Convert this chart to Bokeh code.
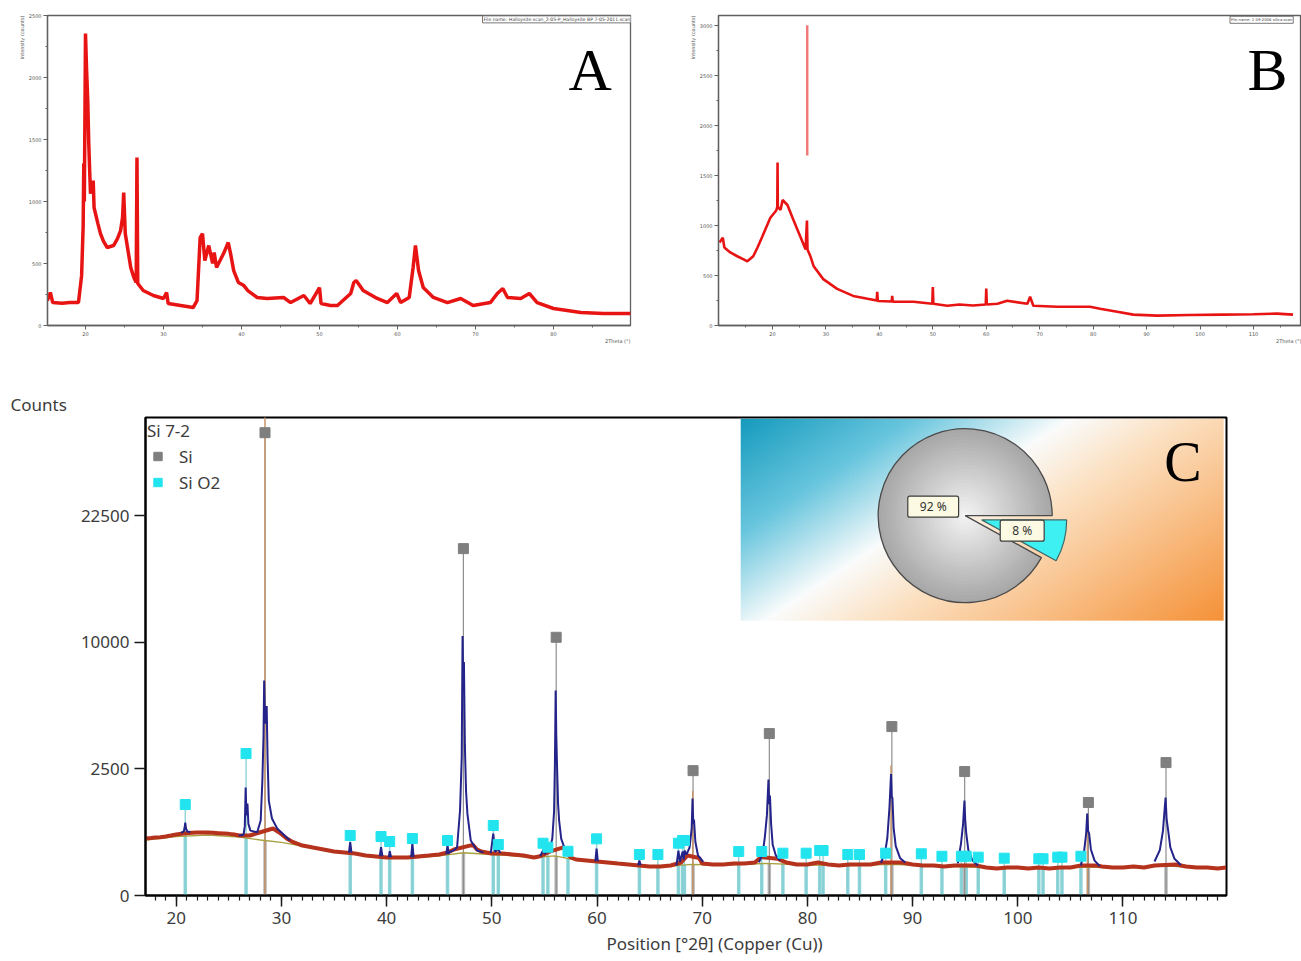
import numpy as np
from bokeh.plotting import figure
from bokeh.layouts import column, row
from bokeh.models import Range1d, FixedTicker, Label, CustomJSTickFormatter, Title
from bokeh.embed import file_html
from bokeh.resources import INLINE
from bokeh.core.properties import value

# ================= Panel A data (halloysite) =================
a_2theta = [15.1, 15.5, 15.8, 17.0, 18.0, 19.1, 19.5, 19.7, 19.78, 19.85, 19.93, 20.0, 20.13, 20.29,
            20.42, 20.55, 20.64, 20.86, 20.99, 21.1, 21.28, 21.6, 21.92, 22.3, 22.78, 23.6, 24.1,
            24.5, 24.75, 24.9, 25.1, 25.8, 26.2, 26.5, 26.6, 26.7, 27.4, 28.7, 30.0, 30.4, 30.6,
            32.2, 33.8, 34.3, 34.7, 35.0, 35.3, 35.8, 36.3, 36.5, 36.8, 37.7, 38.3, 38.6, 39.0,
            39.6, 40.3, 40.8, 42.0, 43.3, 45.4, 46.3, 48.0, 48.8, 50.0, 50.2, 51.4, 52.3, 54.0,
            54.4, 54.7, 55.6, 57.4, 58.7, 59.9, 60.4, 61.5, 62.0, 62.3, 62.7, 63.3, 64.6, 66.4,
            68.1, 69.7, 71.9, 72.8, 73.5, 74.1, 75.8, 76.9, 77.9, 80.0, 83.5, 86.4, 89.9]
a_counts = [200, 266, 185, 180, 185, 185, 400, 800, 1306, 1000, 1700, 2354, 2080, 1813,
            1467, 1225, 1064, 1112, 1169, 950, 903, 820, 741, 680, 629, 645, 700,
            766, 870, 1072, 741, 468, 387, 347, 1354, 339, 282, 242, 218, 266, 177,
            161, 145, 200, 709, 741, 524, 645, 500, 589, 468, 580, 669, 580, 443,
            347, 322, 282, 226, 218, 226, 185, 242, 177, 306, 177, 161, 161, 258,
            347, 363, 282, 218, 185, 258, 185, 226, 468, 645, 443, 306, 226, 185,
            218, 161, 185, 258, 298, 226, 218, 258, 185, 137, 105, 97, 97]
a_xticks = [20, 30, 40, 50, 60, 70, 80]
a_xminor = [25, 35, 45, 55, 65, 75, 85]
a_yticks = [0, 500, 1000, 1500, 2000, 2500]
a_yminor = [250, 750, 1250, 1750, 2250]

# ================= Panel B data (silica) =================
b_2theta = [10.1, 10.7, 11.0, 12.1, 13.5, 14.6, 15.3, 16.4, 17.2, 18.1, 19.6, 20.7, 20.9, 20.95,
            21.0, 21.5, 21.9, 22.8, 23.9, 25.2, 26.2, 26.45, 26.55, 27.1, 27.7, 29.5, 32.1,
            35.1, 37.8, 39.5, 39.6, 39.7, 42.3, 42.4, 42.5, 46.4, 49.9, 50.0, 50.1, 52.7, 55.0,
            57.5, 59.9, 60.0, 60.1, 62.1, 63.9, 67.7, 68.2, 68.8, 73.3, 79.4, 81.3, 84.5, 87.5,
            92.0, 98.0, 104.3, 110.0, 114.4, 117.4]
b_counts = [830, 879, 780, 731, 690, 662, 642, 692, 780, 889, 1077, 1150, 1186, 1630,
            1186, 1156, 1255, 1205, 1057, 889, 761, 1050, 761, 692, 593, 464, 366,
            296, 267, 250, 336, 245, 240, 296, 238, 237, 217, 385, 217, 198, 210,
            200, 210, 370, 210, 217, 247, 217, 287, 198, 188, 188, 168, 138, 109,
            99, 105, 109, 112, 119, 109]
b_spike_2theta = [26.5]
b_spike_low = [1700]
b_spike_high = [3003]
b_xticks = [20, 30, 40, 50, 60, 70, 80, 90, 100, 110]
b_xminor = [15, 25, 35, 45, 55, 65, 75, 85, 95, 105, 115]
b_yticks = [0, 500, 1000, 1500, 2000, 2500, 3000]
b_yminor = [250, 750, 1250, 1750, 2250, 2750]

# ================= Panel C data (Si 7-2) =================
c_meas_2theta = [17.1, 17.6, 18.0, 18.5, 19.0, 19.5, 20.0, 20.5, 21.0, 21.5, 22.0, 22.5, 23.0,
                 23.5, 24.0, 24.5, 25.0, 25.5, 26.0, 26.5, 27.0, 27.6, 29.2, 29.8, 30.5, 31.0,
                 31.5, 32.0, 33.0, 34.0, 35.0, 36.0, 37.0, 38.0, 39.0, 40.0, 41.0, 42.0, 43.0,
                 44.0, 45.0, 45.8, 46.4, 48.2, 48.6, 49.0, 50.0, 51.0, 52.0, 53.0, 54.0, 54.6,
                 55.5, 56.8, 57.5, 58.0, 59.0, 60.0, 61.0, 62.0, 63.0, 64.0, 65.0, 66.0, 67.0,
                 68.0, 68.6, 69.7, 70.0, 71.0, 72.0, 73.0, 74.0, 75.0, 75.6, 77.2, 77.5, 78.0,
                 79.0, 80.0, 81.0, 82.0, 83.0, 84.0, 85.0, 86.0, 87.0, 89.0, 90.0, 91.0, 92.0,
                 93.0, 94.0, 96.0, 97.0, 98.0, 99.0, 100.0, 101.0, 102.0, 103.0, 104.0, 105.0,
                 106.0, 107.5, 108.0, 109.0, 110.0, 111.0, 112.0, 113.0, 115.0, 116.0, 117.0,
                 118.0, 119.0, 119.8]
c_meas_counts = [506, 515, 524, 530, 542, 560, 580, 595, 605, 612, 618, 620, 618,
                 612, 606, 600, 592, 580, 561, 560, 561, 599, 699, 618, 506, 454,
                 420, 389, 358, 330, 301, 288, 275, 249, 237, 225, 225, 225, 237,
                 249, 262, 288, 330, 400, 330, 301, 275, 275, 262, 249, 225, 240,
                 300, 360, 225, 202, 191, 180, 170, 159, 150, 140, 131, 131, 140,
                 170, 250, 220, 159, 150, 150, 159, 159, 170, 230, 210, 191, 170,
                 150, 150, 170, 150, 140, 150, 150, 150, 170, 170, 150, 140, 140,
                 131, 140, 140, 122, 113, 122, 122, 113, 122, 113, 122, 122,
                 140, 140, 131, 122, 122, 131, 122, 140, 150, 131, 122,
                 122, 113, 122]

nan = float("nan")
c_calc_2theta = [20.45, 20.72, 20.8, 20.86, 20.93, 21.05, 21.35, nan,
                 25.95, 26.4, 26.52, 26.6, 26.68, 26.77, 26.86, 27.05, 27.7, 28.03, 28.19, 28.3,
                 28.36, 28.45, 28.6, 28.68, 28.8, 29.1, 29.6, 30.3, 30.8, nan,
                 36.42, 36.54, 36.66, nan, 39.35, 39.47, 39.6, nan, 40.2, 40.3, 40.42, nan,
                 42.33, 42.45, 42.57, nan, 45.67, 45.79, 45.92, nan,
                 45.95, 46.4, 46.7, 46.98, 47.14, 47.22, 47.29, 47.35, 47.44, 47.55, 47.68, 48.0,
                 48.6, 49.2, nan,
                 49.9, 50.14, 50.3, 50.62, 50.8, nan,
                 54.6, 54.87, 55.05, 55.33, 55.5, 55.75, 55.92, 56.0, 56.07, 56.13, 56.2, 56.3,
                 56.4, 56.6, 56.9, 57.24, 57.5, nan,
                 59.84, 59.96, 60.08, nan, 63.9, 64.03, 64.15, nan,
                 67.55, 67.74, 67.88, 68.14, 68.25, 68.32, 68.5, 68.8, 69.0, 69.08, 69.15, 69.22,
                 69.35, 69.6, 70.1, nan,
                 75.4, 75.75, 75.95, 76.15, 76.3, 76.37, 76.44, 76.55, 76.7, 77.0, 77.4, nan,
                 87.0, 87.4, 87.6, 87.8, 87.95, 88.02, 88.08, 88.2, 88.4, 88.8, 89.3, nan,
                 94.3, 94.6, 94.8, 94.93, 95.0, 95.1, 95.3, 95.7, 96.2, nan,
                 106.0, 106.3, 106.5, 106.6, 106.68, 106.78, 106.95, 107.3, 107.8, nan,
                 113.0, 113.5, 113.8, 113.97, 114.05, 114.15, 114.3, 114.5, 114.9, 115.5]
c_calc_counts = [612, 640, 720, 830, 700, 640, 630, nan,
                 560, 575, 750, 1815, 1000, 1318, 800, 656, 624, 876, 2060, 4000,
                 7200, 4600, 5600, 3000, 1405, 923, 699, 561, 471, nan,
                 285, 442, 285, nan, 240, 363, 240, nan, 228, 305, 228, nan,
                 228, 421, 228, nan, 265, 389, 265, nan,
                 290, 320, 363, 1125, 2966, 10500, 6500, 8500, 3500, 1700, 1047, 471,
                 315, 290, nan,
                 280, 599, 300, 340, 280, nan,
                 240, 315, 270, 320, 330, 500, 1100, 2714, 6545, 4000, 2630, 1300,
                 876, 500, 358, 290, 250, nan,
                 182, 344, 182, nan, 142, 191, 142, nan,
                 140, 315, 175, 300, 200, 315, 260, 359, 700, 1465, 807, 900,
                 450, 250, 175, nan,
                 170, 275, 520, 1000, 2095, 1300, 1557, 800, 400, 250, 190, nan,
                 165, 300, 520, 1200, 2300, 1500, 1495, 700, 380, 220, 170, nan,
                 160, 420, 800, 1405, 900, 600, 320, 190, 140, nan,
                 140, 300, 599, 1048, 650, 600, 330, 190, 135, nan,
                 180, 320, 650, 1200, 1495, 900, 650, 360, 210, 145]

c_bg_2theta = [17.1, 20, 23, 26, 28, 30, 32, 34, 37, 40, 43, 45, 47.3, 49.5, 52, 54, 56, 58, 62,
               66, 69, 72, 76, 80, 84, 88, 92, 96, 100, 106, 110, 114, 119.8]
c_bg_counts = [480, 540, 570, 530, 480, 440, 380, 325, 265, 220, 225, 245, 285, 265, 245, 225,
               245, 195, 152, 128, 150, 145, 160, 145, 140, 152, 135, 125, 115, 125, 120, 135, 115]

si_2theta = [28.44, 47.30, 56.12, 69.13, 76.38, 88.03, 94.95, 106.71, 114.09]
si_marker_counts = [33380, 18750, 10390, 2430, 4087, 4447, 2394, 1347, 2754]

sio2_2theta = [20.86, 26.64, 36.54, 39.47, 40.29, 42.45, 45.79, 50.14, 50.62, 54.87,
               55.33, 57.24, 59.96, 64.03, 65.79, 67.74, 68.14, 68.31, 73.47, 75.66,
               77.67, 79.88, 81.17, 81.49, 83.84, 84.95, 87.44, 90.83, 92.79, 94.64,
               95.10, 96.24, 98.71, 102.0, 102.4, 103.8, 104.2, 106.0]
sio2_marker_counts = [1290, 3140, 561, 542, 454, 506, 471, 763, 405, 426,
                      363, 305, 500, 262, 262, 426, 471, 471, 301, 301,
                      279, 279, 315, 315, 262, 262, 279, 271, 240, 240,
                      240, 229, 217, 210, 210, 229, 229, 240]

peaklist_2theta = [28.44, 69.10, 87.95, 106.62]
peaklist_counts = [45000, 1700, 2630, 1048]

c_xticks = [20, 30, 40, 50, 60, 70, 80, 90, 100, 110]
c_xminor = list(range(18, 120))
c_ytick_counts = [0, 2500, 10000, 22500]

phase_names = ["Si", "Si O2"]
phase_pct = [92, 8]

# ================= helpers =================
RED = "#e81414"
SANS = "Noto Sans"
TXT = "#3c3c3c"


def style_small(p, xt, xm, yt, ym):
    p.xgrid.grid_line_color = None
    p.ygrid.grid_line_color = None
    p.outline_line_color = "#606060"
    p.outline_line_width = 1.3
    p.xaxis.ticker = FixedTicker(ticks=xt, minor_ticks=xm)
    p.yaxis.ticker = FixedTicker(ticks=yt, minor_ticks=ym)
    for ax in (p.xaxis[0], p.yaxis[0]):
        ax.axis_line_color = "#606060"
        ax.axis_line_width = 1.3
        ax.major_tick_line_color = "#606060"
        ax.minor_tick_line_color = "#606060"
        ax.major_tick_in = 0
        ax.major_tick_out = 4
        ax.minor_tick_in = 0
        ax.minor_tick_out = 2
        ax.major_label_text_font_size = "5px"
        ax.major_label_text_color = "#555555"
        ax.major_label_standoff = 2
        ax.major_label_text_font = "DejaVu Sans"
    p.add_layout(Title(text="Intensity (counts)", align="right", offset=0, standoff=2,
                       text_font="DejaVu Sans", text_font_size="5px", text_font_style="normal",
                       text_color="#555555"), "left")
    p.add_layout(Title(text="2Theta (°)", align="right", offset=0, standoff=-6,
                       text_font="DejaVu Sans", text_font_size="5px", text_font_style="normal",
                       text_color="#555555"), "below")


# ================= Panel A =================
pA = figure(width=663, height=348, x_range=Range1d(15.13, 89.87), y_range=Range1d(0, 2500),
            output_backend="svg", toolbar_location=None,
            min_border_left=47, min_border_right=33, min_border_top=15, min_border_bottom=23)
pA.line(a_2theta, a_counts, line_color=RED, line_width=3.5)
style_small(pA, a_xticks, a_xminor, a_yticks, a_yminor)
pA.add_layout(Label(x=84.7, y=1902, y_offset=20, text="A", text_font="Liberation Serif",
                    text_font_size="60px", text_align="center", text_baseline="alphabetic",
                    text_color="black"))
pA.add_layout(Label(x=70.9, y=2497, text="File name: Halloysite scan_2-05-P_Halloysite BP 7-05-2011.scan",
                    text_font="DejaVu Sans", text_font_size="4.6px", text_align="left",
                    text_baseline="top", text_color="#444444", background_fill_color="white",
                    border_line_color="#555555", border_line_width=0.8, padding=1))

# ================= Panel B =================
pB = figure(width=638, height=348, x_range=Range1d(9.9, 118.98), y_range=Range1d(0, 3100),
            output_backend="svg", toolbar_location=None,
            min_border_left=55, min_border_right=0, min_border_top=13, min_border_bottom=21)
pB.segment(x0=b_spike_2theta, y0=b_spike_low, x1=b_spike_2theta, y1=b_spike_high,
           line_color="#f07a7a", line_width=2.5)
pB.line(b_2theta, b_counts, line_color=RED, line_width=2.6)
style_small(pB, b_xticks, b_xminor, b_yticks, b_yminor)
pB.add_layout(Label(x=112.6, y=2352, y_offset=20, text="B", text_font="Liberation Serif",
                    text_font_size="60px", text_align="center", text_baseline="alphabetic",
                    text_color="black"))
pB.add_layout(Label(x=105.6, y=3092, text="File name: 1-59-2006 silica.scan",
                    text_font="DejaVu Sans", text_font_size="3.8px", text_align="left",
                    text_baseline="top", text_color="#444444", background_fill_color="white",
                    border_line_color="#555555", border_line_width=0.8, padding=1))

# ================= Panel C =================
CX0, CX1 = 17.08, 119.84
CY0, CY1 = 0.0, 188.7
C_W, C_H = 1301, 610
C_L, C_R, C_T, C_B = 145, 75, 69, 63
pC = figure(width=C_W, height=C_H, x_range=Range1d(CX0, CX1), y_range=Range1d(CY0, CY1),
            output_backend="svg", toolbar_location=None,
            min_border_left=C_L, min_border_right=C_R, min_border_top=C_T, min_border_bottom=C_B)
px_x = (C_W - C_L - C_R) / (CX1 - CX0)
px_y = (C_H - C_T - C_B) / (CY1 - CY0)

sq = np.sqrt

# inset gradient panel (decoration)
INS_X0, INS_X1, INS_Y0, INS_Y1 = 73.66, 119.57, 108.5, 188.2
GH, GW = 120, 300
u = np.linspace(0, 1, GW)[None, :]
vv = 1 - np.linspace(0, 1, GH)[:, None]
t = (u + 0.63 * vv) / 1.63
stops = [0.0, 0.22, 0.417, 0.56, 1.0]
cols = [(22, 155, 190), (105, 198, 222), (250, 252, 252), (252, 226, 196), (245, 146, 56)]
img = np.empty((GH, GW), dtype=np.uint32)
view = img.view(dtype=np.uint8).reshape((GH, GW, 4))
for k in range(3):
    view[:, :, k] = np.interp(t, stops, [c[k] for c in cols]).astype(np.uint8)
view[:, :, 3] = 255
pC.image_rgba(image=[img], x=INS_X0, y=INS_Y0, dw=INS_X1 - INS_X0, dh=INS_Y1 - INS_Y0)

bg_at_si = np.interp(si_2theta, c_bg_2theta, c_bg_counts)
bg_at_sio2 = np.interp(sio2_2theta, c_bg_2theta, c_bg_counts)

# reference sticks
pC.segment(x0=sio2_2theta, y0=0, x1=sio2_2theta, y1=sq(bg_at_sio2), line_color="#8fd5d9", line_width=3.5)
pC.segment(x0=si_2theta, y0=0, x1=si_2theta, y1=sq(bg_at_si), line_color="#b9b9b9", line_width=3.5)
pC.segment(x0=sio2_2theta, y0=0, x1=sio2_2theta, y1=sq(sio2_marker_counts), line_color="#86cfd4", line_width=1.3)
pC.segment(x0=si_2theta, y0=0, x1=si_2theta, y1=sq(si_marker_counts), line_color="#8e8e8e", line_width=1.2)
pC.segment(x0=peaklist_2theta, y0=0, x1=peaklist_2theta, y1=sq(peaklist_counts), line_color="#c8956a", line_width=1.5)

# patterns
pC.line(c_bg_2theta, sq(c_bg_counts), line_color="#a8a040", line_width=1.3)
pC.line(c_meas_2theta, sq(c_meas_counts), line_color="#b5321c", line_width=4)
pC.line(c_calc_2theta, sq(c_calc_counts), line_color="#23238a", line_width=2)

# phase markers
pC.scatter(si_2theta, sq(si_marker_counts), marker="square", size=10, fill_color="#7f7f7f",
           line_color="#7f7f7f", legend_label=phase_names[0])
pC.scatter(sio2_2theta, sq(sio2_marker_counts), marker="square", size=10, fill_color="#22e4ee",
           line_color="#22e4ee", legend_label=phase_names[1])

# pie chart of phase fractions
PIE_X, PIE_Y, PIE_R = 95.0, 149.95, 87
tot = float(sum(phase_pct))
a_end = 2 * np.pi * phase_pct[0] / tot
grays = np.linspace(168, 242, 24)
radii = np.linspace(PIE_R, 4, 24)
for rr, gv in zip(radii, grays):
    g = int(gv)
    pC.wedge(x=PIE_X, y=PIE_Y, radius=rr, radius_units="screen", start_angle=0, end_angle=a_end,
             fill_color=(g, g, g), line_color=None)
pC.wedge(x=PIE_X, y=PIE_Y, radius=PIE_R, radius_units="screen", start_angle=0, end_angle=a_end,
         fill_color=None, line_color="#4a4a4a", line_width=1.3)
mid = (a_end + 2 * np.pi) / 2
EXP = 17
ex = PIE_X + EXP * np.cos(mid) / px_x
ey = PIE_Y + EXP * np.sin(mid) / px_y
pC.wedge(x=ex, y=ey, radius=PIE_R - 2, radius_units="screen", start_angle=a_end, end_angle=2 * np.pi,
         fill_color="#3ff0f2", line_color="#3d6868", line_width=1.2)

for txt, dx, dy in ((f"{phase_pct[0]} %", -32, 9), (f"{phase_pct[1]} %", 57, -15)):
    pC.add_layout(Label(x=PIE_X, y=PIE_Y, x_offset=dx, y_offset=dy, text=txt, text_font=SANS,
                        text_font_size="12px", text_color="#333333", text_align="center",
                        text_baseline="middle", background_fill_color="#fcfae2",
                        border_line_color="#3c3c3c", border_line_width=1.2,
                        padding=dict(left=12, right=12, top=2, bottom=2), border_radius=2))

pC.add_layout(Label(x=115.7, y=163.8, y_offset=19, text="C", text_font="Liberation Serif",
                    text_font_size="56px", text_align="center", text_baseline="alphabetic",
                    text_color="black"))
pC.add_layout(Title(text="Counts", align="left", offset=-135, standoff=3, text_font=SANS,
                    text_font_size="17px", text_font_style="normal", text_color=TXT), "above")

# axes styling
pC.xgrid.grid_line_color = None
pC.ygrid.grid_line_color = None
pC.outline_line_color = "black"
pC.outline_line_width = 2
pC.xaxis.ticker = FixedTicker(ticks=c_xticks, minor_ticks=c_xminor)
pC.yaxis.ticker = FixedTicker(ticks=[float(v) for v in sq(c_ytick_counts)])
pC.yaxis.formatter = CustomJSTickFormatter(code="return String(Math.round(tick*tick));")
for ax in (pC.xaxis[0], pC.yaxis[0]):
    ax.axis_line_color = "black"
    ax.axis_line_width = 2
    ax.major_tick_line_color = "#1a1a1a"
    ax.major_tick_line_width = 1.5
    ax.minor_tick_line_color = "#1a1a1a"
    ax.minor_tick_line_width = 1.2
    ax.major_tick_in = 0
    ax.major_tick_out = 11
    ax.minor_tick_in = 0
    ax.minor_tick_out = 5
    ax.major_label_text_font = SANS
    ax.major_label_text_font_size = "17px"
    ax.major_label_text_color = TXT
    ax.major_label_standoff = 5
pC.yaxis.minor_tick_line_color = None
pC.add_layout(Title(text="Position [°2θ] (Copper (Cu))", align="left", offset=461, standoff=7,
                    text_font=SANS, text_font_size="17px", text_font_style="normal",
                    text_color=TXT), "below")

lg = pC.legend[0]
lg.title = "Si 7-2"
lg.title_text_font = SANS
lg.title_text_font_size = "17px"
lg.title_text_font_style = "normal"
lg.title_text_color = TXT
lg.label_text_font = SANS
lg.label_text_font_size = "17px"
lg.label_text_color = TXT
lg.location = "top_left"
lg.margin = 2
lg.padding = 3
lg.background_fill_alpha = 0
lg.border_line_color = None
lg.glyph_width = 21
lg.glyph_height = 24
lg.label_height = 24
lg.spacing = 2
lg.label_standoff = 11
lg.title_standoff = 2

layout = column(row(pA, pB), pC)
open("out.html", "w").write(file_html(layout, INLINE))
